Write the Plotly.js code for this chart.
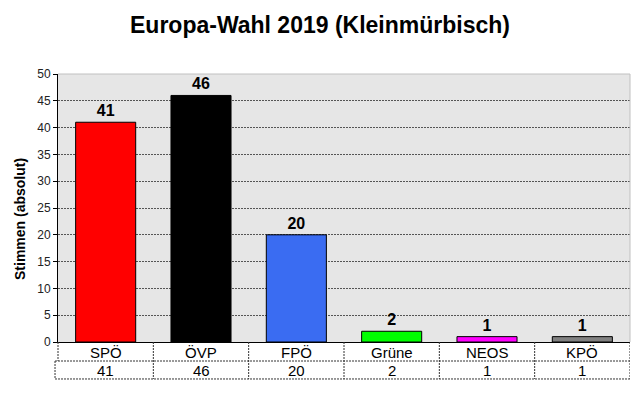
<!DOCTYPE html>
<html>
<head>
<meta charset="utf-8">
<script src="https://cdn.plot.ly/plotly-3.0.1.min.js"></script>
<style>html,body{margin:0;padding:0;background:#fff}#chart{width:640px;height:398px}</style>
</head>
<body>
<div id="chart"></div>
<script>
const categories = ["SPÖ", "ÖVP", "FPÖ", "Grüne", "NEOS", "KPÖ"];
const votes = [41, 46, 20, 2, 1, 1];
const barColors = ["#ff0000", "#000000", "#3a6cf2", "#00ff00", "#ff00ff", "#808080"];
const yTicks = [0, 5, 10, 15, 20, 25, 30, 35, 40, 45, 50];

const FONT = "Liberation Sans, Arial, sans-serif";
const n = categories.length;
const xs = categories.map((_, i) => i);

// table geometry (paper units below the plot area)
const row1Bottom = -0.0709, row2Bottom = -0.138;
const row1Mid = -0.039, row2Mid = -0.106;
const dashLine = {color: "#333", width: 1, dash: "2px,1px"};

const shapes = [];
// plot frame (top and right, light gray)
shapes.push({type: "line", xref: "paper", yref: "paper", x0: 0, x1: 1, y0: 1, y1: 1, line: {color: "#c0c0c0", width: 1}});
shapes.push({type: "line", xref: "paper", yref: "paper", x0: 1, x1: 1, y0: 0, y1: 1, line: {color: "#c0c0c0", width: 1}});
// table horizontal lines
shapes.push({type: "line", xref: "paper", yref: "paper", x0: -0.0052, x1: 1, y0: row1Bottom, y1: row1Bottom, line: dashLine});
shapes.push({type: "line", xref: "paper", yref: "paper", x0: -0.0052, x1: 1, y0: row2Bottom, y1: row2Bottom, line: dashLine});
// table vertical lines
shapes.push({type: "line", xref: "paper", yref: "paper", x0: 0, x1: 0, y0: 0, y1: row1Bottom, line: dashLine});
shapes.push({type: "line", xref: "paper", yref: "paper", x0: -0.0052, x1: -0.0052, y0: row1Bottom, y1: row2Bottom, line: dashLine});
for (let i = 0; i < n; i++) {
  shapes.push({type: "line", xref: "x", yref: "paper", x0: i + 0.5, x1: i + 0.5, y0: 0, y1: row2Bottom, line: dashLine});
}

const annotations = [];
categories.forEach((c, i) => {
  annotations.push({x: i, xref: "x", y: row1Mid, yref: "paper", text: c, showarrow: false,
    font: {family: FONT, size: 15, color: "#000"}, yanchor: "middle"});
  annotations.push({x: i, xref: "x", y: row2Mid, yref: "paper", text: String(votes[i]), showarrow: false,
    font: {family: FONT, size: 15, color: "#000"}, yanchor: "middle"});
});
// y-axis title
annotations.push({x: -0.0664, xref: "paper", y: 0.459, yref: "paper", text: "<b>Stimmen (absolut)</b>",
  textangle: -90, showarrow: false, xanchor: "center", yanchor: "middle",
  font: {family: FONT, size: 14, color: "#000"}});

const trace = {
  type: "bar",
  x: xs,
  y: votes,
  marker: {color: barColors, line: {color: "#000", width: 1}},
  text: votes.map(String),
  textposition: "outside",
  textfont: {family: FONT, size: 16, color: "#000", weight: "bold"},
  cliponaxis: false,
  hoverinfo: "none"
};

const layout = {
  width: 640, height: 398,
  margin: {l: 58, r: 10, t: 74, b: 56},
  paper_bgcolor: "#ffffff",
  plot_bgcolor: "#e6e6e6",
  showlegend: false,
  bargap: 0.37,
  title: {text: "<b>Europa-Wahl 2019 (Kleinmürbisch)</b>", x: 0.5, xanchor: "center", y: 0.937, yanchor: "middle",
    font: {family: FONT, size: 23, color: "#000"}},
  xaxis: {
    range: [-0.5, n - 0.5],
    showticklabels: false, ticks: "", showgrid: false, zeroline: false,
    showline: true, linecolor: "#000", linewidth: 1, fixedrange: true
  },
  yaxis: {
    range: [0, 50],
    tickvals: yTicks,
    ticktext: yTicks.map(String),
    tickfont: {family: FONT, size: 12, color: "#222"},
    ticks: "outside", ticklen: 4, tickcolor: "#000",
    showline: true, linecolor: "#000", linewidth: 1,
    showgrid: true, gridcolor: "#555", griddash: "2px,1px", gridwidth: 1,
    zeroline: false
  },
  shapes: shapes,
  annotations: annotations
};

Plotly.newPlot("chart", [trace], layout, {staticPlot: true, displayModeBar: false});
</script>
</body>
</html>
